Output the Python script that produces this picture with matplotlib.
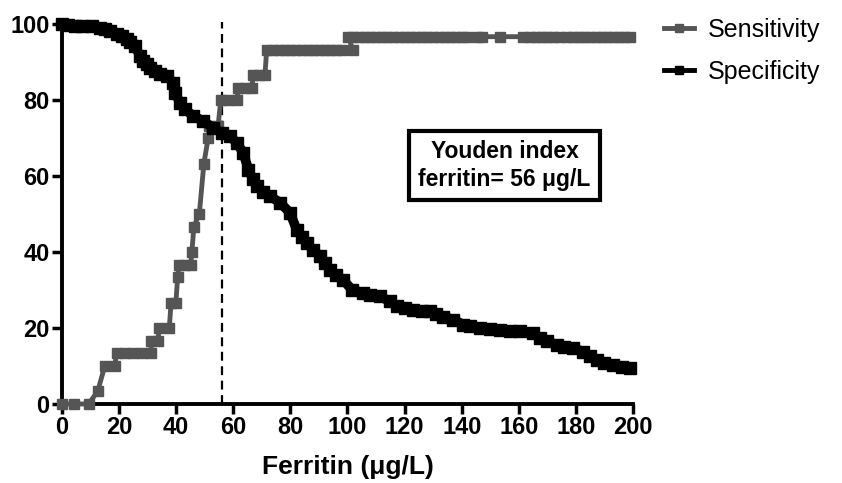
import matplotlib
matplotlib.use("Agg")
import matplotlib.pyplot as plt
from matplotlib.lines import Line2D

plt.rcParams['font.family'] = ['Liberation Sans', 'DejaVu Sans']

# sensitivity step curve
sens_x = [0, 4.3, 9.3, 12.5, 15, 18.5, 19.1, 22, 25, 28, 31.2, 31.2, 33.6, 34.1, 37.6,
          38.2, 39.9, 40.5, 41, 43, 45.1, 45.5, 46.2, 48.1, 49.7, 51.2, 51.6, 54.7,
          55.6, 58, 61.2, 61.8, 64, 66.5, 67, 69, 71.1, 71.7, 74, 76, 78, 80, 82, 84,
          86, 88, 90, 92, 94, 96, 98, 101.8,
          100.3, 102, 104, 106, 108, 110, 112, 114, 116, 118, 120, 122, 124, 126, 128,
          130, 132, 134, 136, 138, 140, 142, 145.2, 147, 153.4, 161.6, 163.9, 166, 168,
          170, 172, 174, 176.8, 179.1, 181, 183, 185, 187, 189, 191, 193, 195, 197, 199]
sens_y = [0, 0, 0, 3.3, 10, 10, 13.3, 13.3, 13.3, 13.3, 13.3, 16.7, 16.7, 20, 20,
          26.7, 26.7, 33.3, 36.7, 36.7, 36.7, 40, 46.7, 50, 63.3, 70, 73.3, 73.3,
          80, 80, 80, 83.3, 83.3, 83.3, 86.7, 86.7, 86.7] + [93.3] * 15 + [96.7] * 44

# specificity curve
spec_x = [0, 2, 4.5, 7, 10.4, 13.3, 15, 16.8, 19.2, 21, 22.7, 24, 25.6, 27.3, 28.5,
          29.7, 31, 32.6, 34.5, 36.7, 39, 39.6, 41.3, 43.1, 46, 49.5, 53, 55.9, 58.8,
          61.2, 63.5, 65.3, 66.8, 68.2, 70.5, 72.9, 76.4, 79.9, 82.2, 84, 85.7, 88,
          90.4, 92, 93.9, 96, 98.5, 101.5, 105.5, 108, 111.4, 114.9, 117.2, 120, 123,
          126, 128.9, 131, 133.6, 137.1, 140.6, 143, 146.4, 150, 153.4, 157, 160.4,
          165.1, 167.4, 170, 173.3, 176, 179.1, 182.6, 185, 187.3, 190, 193.1, 196, 199]
spec_y = [100, 99.8, 99.6, 99.5, 99.5, 99.1, 98.7, 98.2, 97.4, 96.8, 96, 95.3, 94.3,
          91.6, 90.4, 89.4, 88.5, 87.7, 87, 86.4, 84.6, 82, 79.3, 77.6, 75.8, 74.5,
          72.7, 71.4, 70.5, 68.8, 66.1, 61.7, 59.2, 57.3, 55.8, 54.7, 53, 50.3, 45.9,
          44, 42.4, 40.5, 38.9, 37, 35.4, 34, 32.7, 30.1, 29.2, 28.8, 28.3, 27, 25.7,
          25.3, 24.8, 24.6, 24.4, 23.7, 23, 22.2, 20.9, 20.4, 20, 19.7, 19.5, 19.3,
          19.1, 18.7, 17.3, 16.5, 15.6, 15.1, 14.7, 13.8, 12.7, 11.6, 10.9, 10.3, 9.8, 9.4]

youden = 56
xticks = list(range(0, 201, 20))
yticks = list(range(0, 101, 20))
sens_col = '#555555'

fig = plt.figure(figsize=(8.42, 4.83), dpi=100)
ax = fig.add_axes([0.0736, 0.1636, 0.6782, 0.7864])

ax.plot(sens_x, sens_y, color=sens_col, lw=3.5, marker='s', ms=7,
        clip_on=False, zorder=3)
ax.plot(spec_x, spec_y, color='black', lw=7, marker='s', ms=8,
        clip_on=False, zorder=4)
ax.plot([youden, youden], [0, 100.5], color='black', lw=1.6, ls=(0, (4, 2.5)),
        clip_on=False, zorder=2)

ax.text(155, 62.8, 'Youden index\nferritin= 56 \u03bcg/L', ha='center', va='center',
        fontsize=16.5, fontweight='bold', linespacing=1.3,
        bbox=dict(boxstyle='square,pad=0.4', fc='white', ec='black', lw=3))

ax.set_xlim(0, 200)
ax.set_ylim(0, 100)
ax.set_xticks(xticks)
ax.set_yticks(yticks)
for s in ['top', 'right']:
    ax.spines[s].set_visible(False)
for s in ['left', 'bottom']:
    ax.spines[s].set_linewidth(2.8)
ax.tick_params(width=2.5, length=7, labelsize=17, pad=2)
for lab in ax.get_xticklabels() + ax.get_yticklabels():
    lab.set_fontweight('bold')
ax.set_xlabel('Ferritin (\u03bcg/L)', fontsize=19, fontweight='bold', labelpad=11)

handles = [Line2D([], [], color=sens_col, lw=3.5, marker='s', ms=6),
           Line2D([], [], color='black', lw=3.5, marker='s', ms=6)]
ax.legend(handles, ['Sensitivity', 'Specificity'], loc='upper left',
          bbox_to_anchor=(1.015, 1.075), frameon=False, fontsize=18,
          handlelength=1.2, handletextpad=0.55, labelspacing=0.72)

fig.savefig('out.png', dpi=100)
